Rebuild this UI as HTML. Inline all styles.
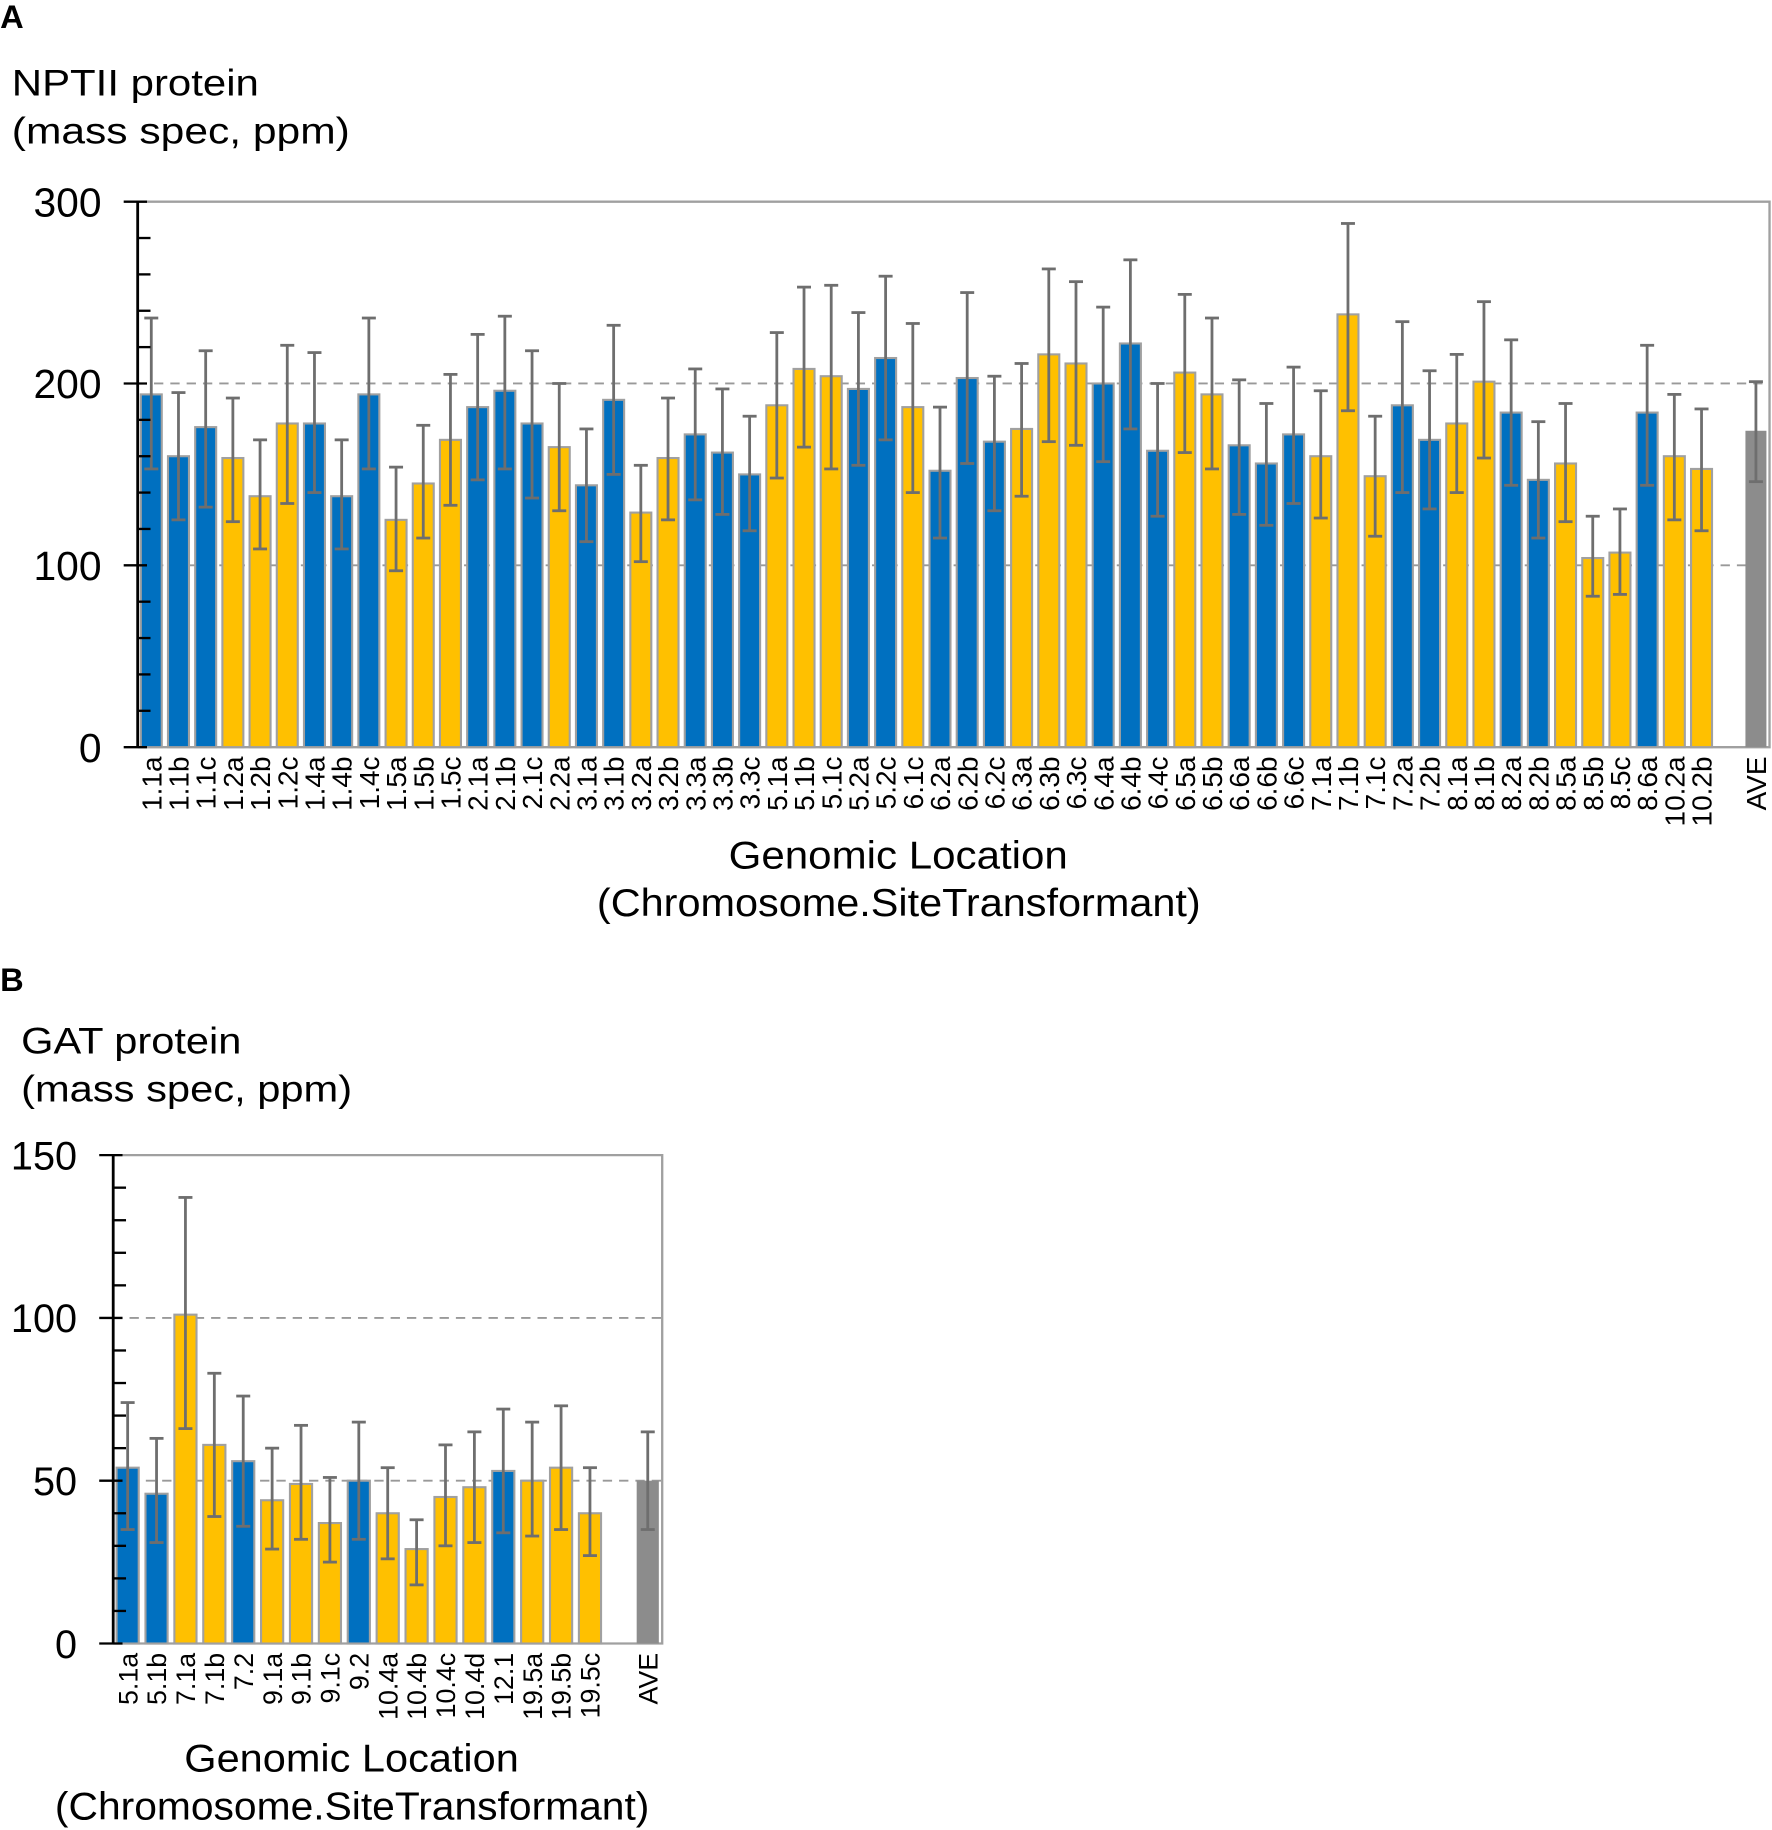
<!DOCTYPE html>
<html><head><meta charset="utf-8">
<style>
html,body{margin:0;padding:0;background:#fff;}
svg{display:block;font-family:"Liberation Sans",Arial,sans-serif;}
</style></head>
<body>
<svg id="fig" width="1772" height="1830" viewBox="0 0 1520 1570" xmlns="http://www.w3.org/2000/svg">
<text x="0" y="24" font-size="28" font-weight="bold">A</text>
<text x="10" y="82" font-size="32" textLength="212" lengthAdjust="spacingAndGlyphs">NPTII protein</text>
<text x="10" y="123" font-size="32" textLength="290" lengthAdjust="spacingAndGlyphs">(mass spec, ppm)</text>
<text x="625" y="745" font-size="33" textLength="291" lengthAdjust="spacingAndGlyphs">Genomic Location</text>
<text x="512" y="786" font-size="33" textLength="518" lengthAdjust="spacingAndGlyphs">(Chromosome.SiteTransformant)</text>
<text x="0" y="850" font-size="28" font-weight="bold">B</text>
<text x="18" y="904" font-size="32" textLength="189" lengthAdjust="spacingAndGlyphs">GAT protein</text>
<text x="18" y="945" font-size="32" textLength="284" lengthAdjust="spacingAndGlyphs">(mass spec, ppm)</text>
<text x="158" y="1520" font-size="33" textLength="287" lengthAdjust="spacingAndGlyphs">Genomic Location</text>
<text x="47" y="1561" font-size="33" textLength="510" lengthAdjust="spacingAndGlyphs">(Chromosome.SiteTransformant)</text>
<g id="chartA"></g>
<g id="chartB"></g>
</svg>
<script>
const catsA = ["1.1a","1.1b","1.1c","1.2a","1.2b","1.2c","1.4a","1.4b","1.4c","1.5a","1.5b","1.5c","2.1a","2.1b","2.1c","2.2a","3.1a","3.1b","3.2a","3.2b","3.3a","3.3b","3.3c","5.1a","5.1b","5.1c","5.2a","5.2c","6.1c","6.2a","6.2b","6.2c","6.3a","6.3b","6.3c","6.4a","6.4b","6.4c","6.5a","6.5b","6.6a","6.6b","6.6c","7.1a","7.1b","7.1c","7.2a","7.2b","8.1a","8.1b","8.2a","8.2b","8.5a","8.5b","8.5c","8.6a","10.2a","10.2b","","AVE"];
const valsA = [194,160,176,159,138,178,178,138,194,125,145,169,187,196,178,165,144,191,129,159,172,162,150,188,208,204,197,214,187,152,203,168,175,216,211,200,222,163,206,194,166,156,172,160,238,149,188,169,178,201,184,147,156,104,107,184,160,153,null,174];
const hiA = [236,195,218,192,169,221,217,169,236,154,177,205,227,237,218,200,175,232,155,192,208,197,182,228,253,254,239,259,233,187,250,204,211,263,256,242,268,200,249,236,202,189,209,196,288,182,234,207,216,245,224,179,189,127,131,221,194,186,null,201];
const loA = [153,125,132,124,109,134,140,109,153,97,115,133,147,153,137,130,113,150,102,125,136,128,119,148,165,153,155,169,140,115,156,130,138,168,166,157,175,127,162,153,128,122,134,126,185,116,140,131,140,159,144,115,124,83,84,144,125,119,null,146];
const grpA = ["b","b","b","y","y","y","b","b","b","y","y","y","b","b","b","y","b","b","y","y","b","b","b","y","y","y","b","b","y","b","b","b","y","y","y","b","b","b","y","y","b","b","b","y","y","y","b","b","y","y","b","b","y","y","y","b","y","y","-","a"];
const ticksA = [0,100,200,300];

const catsB = ["5.1a","5.1b","7.1a","7.1b","7.2","9.1a","9.1b","9.1c","9.2","10.4a","10.4b","10.4c","10.4d","12.1","19.5a","19.5b","19.5c","","AVE"];
const valsB = [54,46,101,61,56,44,49,37,50,40,29,45,48,53,50,54,40,null,50];
const hiB = [74,63,137,83,76,60,67,51,68,54,38,61,65,72,68,73,54,null,65];
const loB = [35,31,66,39,36,29,32,25,32,26,18,30,31,34,33,35,27,null,35];
const grpB = ["b","b","y","y","b","y","y","y","b","y","y","y","y","b","y","y","y","-","a"];
const ticksB = [0,50,100,150];

const NS = "http://www.w3.org/2000/svg";
const COL = {b:"#0070C0", y:"#FFC000", a:"#8C8C8C"};
function mk(parent, tag, attrs){const e=document.createElementNS(NS,tag);for(const k in attrs)e.setAttribute(k,attrs[k]);parent.appendChild(e);return e;}

function drawChart(g, cfg, cats, vals, hi, lo, grp, ticks){
  const {x0,x1,y0,yTop,max,minor,tickFont,labFont,gridVals,barW} = cfg;
  const ys = v => y0 - (v/max)*(y0-yTop);
  const slot = (x1-x0)/cats.length;
  const xs = i => x0 + (i+0.5)*slot;
  gridVals.forEach(v=>{
    const l=mk(g,"line",{x1:x0,x2:x1,y1:ys(v),y2:ys(v),stroke:"#999","stroke-width":1.6,"stroke-dasharray":"8,6"});
    
    
  });
  const fr=mk(g,"polyline",{points:`${x0},${yTop} ${x1},${yTop} ${x1},${y0} ${x0},${y0}`,fill:"none",stroke:"#A0A0A0","stroke-width":2});
  
  
  cats.forEach((c,i)=>{
    if(vals[i]!==null){
      const cx=xs(i), col=COL[grp[i]];
      const r=mk(g,"rect",{x:cx-barW/2,y:ys(vals[i]),width:barW,height:y0-ys(vals[i]),fill:col,stroke:grp[i]==="a"?"none":"#A0A0A0","stroke-width":1.8});
      
      
      const eg=mk(g,"g",{stroke:"#6E6E6E","stroke-width":2.4});
      
      
      mk(eg,"line",{x1:cx,x2:cx,y1:ys(hi[i]),y2:ys(lo[i])});
      mk(eg,"line",{x1:cx-6,x2:cx+6,y1:ys(hi[i]),y2:ys(hi[i])});
      mk(eg,"line",{x1:cx-6,x2:cx+6,y1:ys(lo[i]),y2:ys(lo[i])});
    }
    if(c){
      const t=mk(g,"text",{x:0,y:0,"font-size":labFont,"text-anchor":"end",transform:`translate(${xs(i)+labFont*0.36},${y0+8}) rotate(-90)`});
      t.textContent=c;
      
      
    }
  });
  const ax=mk(g,"line",{x1:x0,x2:x0,y1:yTop,y2:y0,stroke:"#000","stroke-width":2.4});
  
  
  for(let v=0; v<=max; v+=minor){
    const isMajor = ticks.includes(v);
    const tk=mk(g,"line",{x1:isMajor?x0-12:x0,x2:isMajor?x0+8:x0+11,y1:ys(v),y2:ys(v),stroke:"#000","stroke-width":2});
    
    
  }
  ticks.forEach(v=>{
    const t=mk(g,"text",{x:x0-31,y:ys(v)+tickFont*0.36,"font-size":tickFont,"text-anchor":"end"});
    t.textContent=v;
    
    
  });
}
drawChart(document.getElementById("chartA"),{x0:118,x1:1518,y0:641,yTop:173,max:300,minor:20,tickFont:35,labFont:24,gridVals:[100,200],barW:18},catsA,valsA,hiA,loA,grpA,ticksA);
drawChart(document.getElementById("chartB"),{x0:97,x1:568,y0:1410,yTop:991,max:150,minor:10,tickFont:34,labFont:23,gridVals:[50,100],barW:19},catsB,valsB,hiB,loB,grpB,ticksB);
</script>
</body></html>
